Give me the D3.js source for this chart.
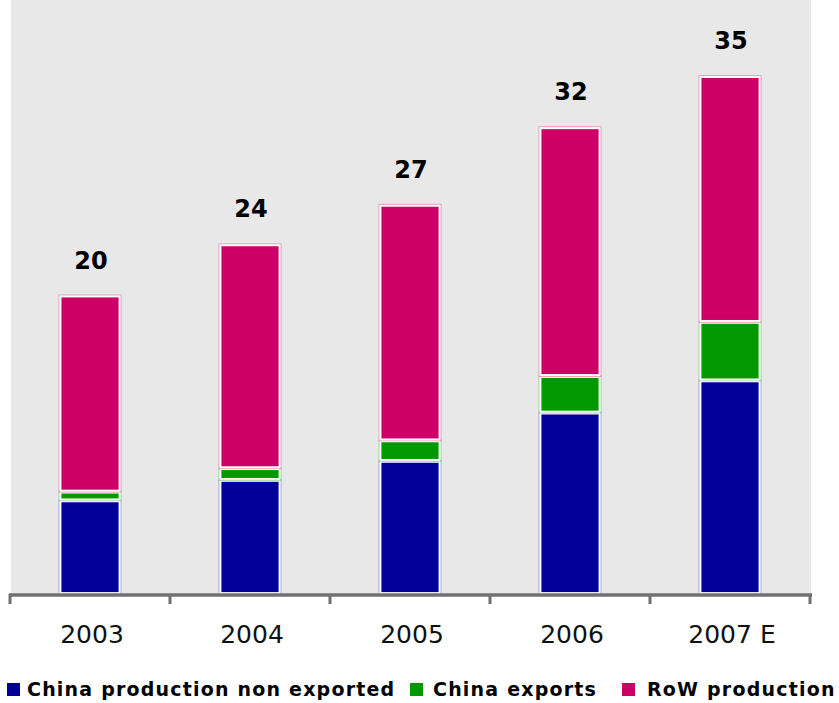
<!DOCTYPE html>
<html>
<head>
<meta charset="utf-8">
<script src="https://cdn.jsdelivr.net/npm/d3@7"></script>
<style>
  html, body { margin: 0; padding: 0; background: #ffffff; }
  svg { display: block; }
</style>
</head>
<body>
<svg id="chart" width="839" height="703"></svg>
<script>
// ---- data ----
const years = ["2003", "2004", "2005", "2006", "2007 E"];
const chinaNonExported = [6.4, 7.8, 9.1, 12.4, 14.6];
const chinaExports = [0.6, 0.8, 1.4, 2.5, 4.0];
const rowProduction = [13.4, 15.3, 16.1, 17.0, 16.8];
const seriesNames = ["China production non exported", "China exports", "RoW production"];
const seriesColors = ["#000099", "#009900", "#CC0066"];
const edgeColors = ["#7777dd", "#66cc66", "#ee6699"];

// ---- layout ----
const svg = d3.select("#chart");
const plot = { left: 10, right: 811, top: 0, bottom: 594 };
const pad = 0.619;

const x = d3.scaleBand().domain(years).range([10, 810]).paddingInner(pad).paddingOuter(pad / 2);
const y = d3.scaleLinear().domain([0, 40.6]).range([plot.bottom, plot.top]);

const rows = years.map((yr, i) => ({
  year: yr,
  s0: chinaNonExported[i],
  s1: chinaExports[i],
  s2: rowProduction[i]
}));
const stack = d3.stack().keys(["s0", "s1", "s2"]);
const stacked = stack(rows);

// background
svg.append("rect")
  .attr("x", plot.left + 1).attr("y", plot.top)
  .attr("width", plot.right - plot.left - 1).attr("height", plot.bottom - plot.top)
  .attr("fill", "#E8E8E8");

// bars
stacked.forEach((layer, li) => {
  const g = svg.append("g");
  // faint coloured outer edge
  g.selectAll("rect.edge")
    .data(layer)
    .join("rect")
    .attr("class", "edge")
    .attr("x", d => x(d.data.year) - 0.5)
    .attr("y", d => y(d[1]) - 0.5)
    .attr("width", x.bandwidth() + 1)
    .attr("height", d => Math.max(0, y(d[0]) - y(d[1]) + 1))
    .attr("fill", "none")
    .attr("stroke", edgeColors[li])
    .attr("stroke-opacity", 0.6)
    .attr("stroke-width", 1);
  g.selectAll("rect.bar")
    .data(layer)
    .join("rect")
    .attr("class", "bar")
    .attr("x", d => x(d.data.year) + 1)
    .attr("y", d => y(d[1]) + 1)
    .attr("width", x.bandwidth() - 2)
    .attr("height", d => Math.max(0, y(d[0]) - y(d[1]) - 2))
    .attr("fill", seriesColors[li])
    .attr("stroke", "#ffffff")
    .attr("stroke-width", 1.8);
});

// totals
svg.append("g").selectAll("text")
  .data(rows)
  .join("text")
  .attr("x", d => x(d.year) + x.bandwidth() / 2 + 1)
  .attr("y", d => y(d.s0 + d.s1 + d.s2) - 27)
  .attr("text-anchor", "middle")
  .attr("font-family", "DejaVu Sans, Verdana, sans-serif")
  .attr("font-weight", "bold")
  .attr("font-size", "24px")
  .attr("fill", "#000")
  .text(d => d3.format(".0f")(d.s0 + d.s1 + d.s2));

// x axis line + boundary ticks
const step = x.step();
const boundaries = years.map(yr => x(yr) - step * pad / 2).concat([x(years[years.length - 1]) + x.bandwidth() + step * pad / 2]);
svg.append("line")
  .attr("x1", 9).attr("x2", 812)
  .attr("y1", plot.bottom + 1).attr("y2", plot.bottom + 1)
  .attr("stroke", "#707070").attr("stroke-width", 3.5);
svg.append("g").selectAll("line")
  .data(boundaries)
  .join("line")
  .attr("x1", d => d).attr("x2", d => d)
  .attr("y1", plot.bottom).attr("y2", plot.bottom + 10)
  .attr("stroke", "#707070").attr("stroke-width", 3);

// year labels
const axisG = svg.append("g")
  .attr("transform", `translate(0, ${plot.bottom})`)
  .call(d3.axisBottom(x).tickSize(0).tickPadding(0));
axisG.select(".domain").remove();
axisG.selectAll("text")
  .attr("dy", null)
  .attr("y", 49)
  .attr("dx", 2)
  .attr("font-family", "DejaVu Sans, Verdana, sans-serif")
  .attr("font-size", "25px")
  .attr("fill", "#111");

// legend
const legendX = [7, 410, 622];
const legendTextX = [27, 433, 647];
const lg = svg.append("g");
seriesNames.forEach((name, i) => {
  lg.append("rect")
    .attr("x", legendX[i]).attr("y", 683)
    .attr("width", 13).attr("height", 13)
    .attr("fill", seriesColors[i]);
  lg.append("text")
    .attr("x", legendTextX[i]).attr("y", 696)
    .attr("font-family", "DejaVu Sans, Verdana, sans-serif")
    .attr("font-weight", "bold")
    .attr("font-size", "19px")
    .attr("letter-spacing", "1.2px")
    .attr("fill", "#000")
    .text(name);
});
</script>
</body>
</html>
